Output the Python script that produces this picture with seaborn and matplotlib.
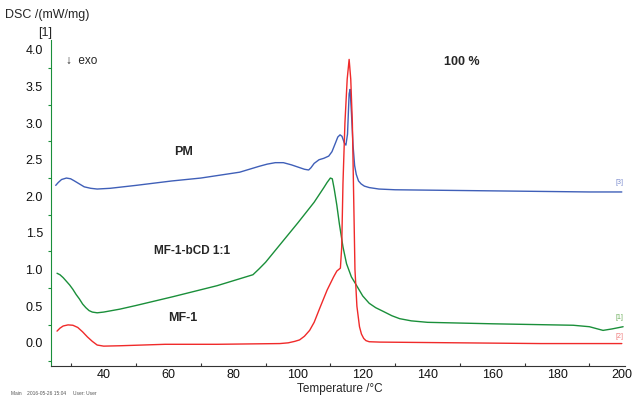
import numpy as np
import matplotlib
matplotlib.use("Agg")
import matplotlib.pyplot as plt
from matplotlib.ticker import MultipleLocator, FormatStrFormatter
import pandas as pd
import seaborn as sns

# PM (blue)
pm_t = [25.2, 26, 27, 28.5, 29.8, 31, 32.5, 34, 36, 38, 42, 50, 61, 70, 82, 85, 88,
        90.5, 93, 95.5, 98, 100, 102, 103.3, 104, 105, 106.5, 108, 109.5, 110.5, 111.5,
        112.3, 113, 113.6, 114.3, 114.8, 115.3, 115.8, 116.1, 116.5, 117, 117.5, 118,
        118.7, 119.5, 120.5, 122, 125, 130, 150, 170, 190, 200]
pm_dsc = [2.15, 2.19, 2.23, 2.25, 2.24, 2.21, 2.17, 2.13, 2.11, 2.10, 2.11, 2.15, 2.21,
          2.25, 2.33, 2.37, 2.41, 2.44, 2.46, 2.46, 2.43, 2.40, 2.37, 2.36, 2.39, 2.45,
          2.50, 2.52, 2.55, 2.61, 2.72, 2.81, 2.84, 2.82, 2.73, 2.70, 2.85, 3.40, 3.46,
          3.15, 2.70, 2.42, 2.30, 2.21, 2.17, 2.14, 2.12, 2.10, 2.09, 2.08, 2.07, 2.06, 2.06]

# MF-1-bCD 1:1 (green)
cd_t = [25.6, 26.5, 27.5, 28.5, 29.5, 30.5, 31.5, 32.5, 33.5, 34.5, 35.5, 36.5, 38, 40,
        45, 50, 61.4, 75, 86.1, 88, 90, 95, 100, 105, 108, 109, 110, 110.6, 111.2, 112,
        112.8, 113.9, 115, 116.5, 118, 120, 122, 124, 126.3, 129, 131.4, 135, 140, 150,
        160, 185, 190, 194.2, 197, 200.4]
cd_dsc = [0.95, 0.93, 0.89, 0.84, 0.79, 0.73, 0.66, 0.60, 0.53, 0.48, 0.44, 0.42, 0.41,
          0.42, 0.46, 0.51, 0.63, 0.78, 0.93, 1.01, 1.10, 1.37, 1.64, 1.92, 2.12, 2.19,
          2.25, 2.24, 2.10, 1.88, 1.62, 1.31, 1.08, 0.90, 0.79, 0.64, 0.54, 0.48, 0.43,
          0.37, 0.33, 0.30, 0.28, 0.27, 0.26, 0.24, 0.22, 0.17, 0.19, 0.22]

# MF-1 (red)
mf_t = [25.6, 26.5, 27.5, 29, 30.5, 32, 33.5, 35, 36.5, 38, 40, 45, 59, 75, 94.4, 97,
        99, 100.5, 102, 103.6, 105, 106.7, 109, 111, 112, 113.1, 113.5, 113.9, 114.5,
        115.2, 115.8, 116.3, 116.8, 117.2, 117.6, 118.2, 119, 119.6, 120.3, 121, 122,
        125.3, 150, 175, 200]
mf_dsc = [0.16, 0.20, 0.23, 0.245, 0.24, 0.21, 0.15, 0.08, 0.02, -0.03, -0.045, -0.04,
          -0.02, -0.02, -0.01, 0.0, 0.02, 0.04, 0.09, 0.17, 0.28, 0.47, 0.72, 0.90, 0.98,
          1.02, 1.30, 2.18, 3.00, 3.60, 3.87, 3.60, 3.00, 2.00, 1.00, 0.50, 0.22, 0.12,
          0.06, 0.03, 0.015, 0.01, 0.0, -0.01, -0.01]

BLUE = "#3f5fb8"
GREEN = "#1a8f3a"
RED = "#f02a2a"

sns.set_style("white")
plt.rcParams["font.family"] = ["Liberation Sans", "DejaVu Sans"]

fig = plt.figure(figsize=(6.32, 3.96), dpi=100)
ax = fig.add_axes([0.081, 0.076, 0.908, 0.823])

for t, d, c in [(pm_t, pm_dsc, BLUE), (cd_t, cd_dsc, GREEN), (mf_t, mf_dsc, RED)]:
    df = pd.DataFrame({"T": t, "DSC": d})
    sns.lineplot(data=df, x="T", y="DSC", color=c, lw=1.0, sort=False,
                 estimator=None, ax=ax)

ax.set_xlim(23.8, 201)
ax.set_ylim(-0.315, 4.135)
ax.xaxis.set_major_locator(MultipleLocator(20))
ax.xaxis.set_minor_locator(MultipleLocator(10))
ax.yaxis.set_major_locator(MultipleLocator(0.5))
ax.yaxis.set_minor_locator(MultipleLocator(0.25))
ax.set_xticks(np.arange(40, 201, 20))
ax.set_xlabel("")
ax.set_ylabel("")

for s in ["top", "right"]:
    ax.spines[s].set_visible(False)
ax.spines["left"].set_color(GREEN)
ax.spines["bottom"].set_color("#333333")
ax.tick_params(axis="y", which="both", direction="out", colors=GREEN,
               labelcolor="#111111", labelsize=9, pad=2)
ax.tick_params(axis="y", which="major", length=4, width=0.8)
ax.tick_params(axis="y", which="minor", length=2, width=0.8, left=True)
ax.tick_params(axis="x", which="both", direction="in", colors="#333333",
               labelcolor="#111111", labelsize=9, pad=2)
ax.tick_params(axis="x", which="major", length=3, width=0.8)
ax.tick_params(axis="x", which="minor", length=2, width=0.8, bottom=True)
ax.yaxis.set_major_formatter(FormatStrFormatter("%.1f"))

ax.text(64.6, 2.61, "PM", fontsize=9, fontweight="bold", ha="center", va="center")
ax.text(67.3, 1.26, "MF-1-bCD 1:1", fontsize=8.5, fontweight="bold", ha="center", va="center")
ax.text(64.5, 0.34, "MF-1", fontsize=9, fontweight="bold", ha="center", va="center")
ax.text(150.6, 3.83, "100 %", fontsize=9, fontweight="bold", ha="center", va="center")
ax.text(28.5, 3.85, "\u2193  exo", fontsize=8.5, ha="left", va="center")

ax.text(199.3, 2.19, "[3]", fontsize=5, color="#8090d0", ha="center", va="center")
ax.text(199.3, 0.34, "[1]", fontsize=5, color="#70b060", ha="center", va="center")
ax.text(199.3, 0.09, "[2]", fontsize=5, color="#f08080", ha="center", va="center")

fig.text(0.008, 0.962, "DSC /(mW/mg)", fontsize=9, ha="left", va="center")
fig.text(0.071, 0.917, "[1]", fontsize=9, ha="center", va="center")
fig.text(0.537, 0.018, "Temperature /\u00b0C", fontsize=8.5, ha="center", va="center")
fig.text(0.018, 0.0, "Main    2016-05-26 15:04     User: User", fontsize=3.5,
         color="#555555", ha="left", va="bottom")

fig.savefig("out.png", dpi=100)
